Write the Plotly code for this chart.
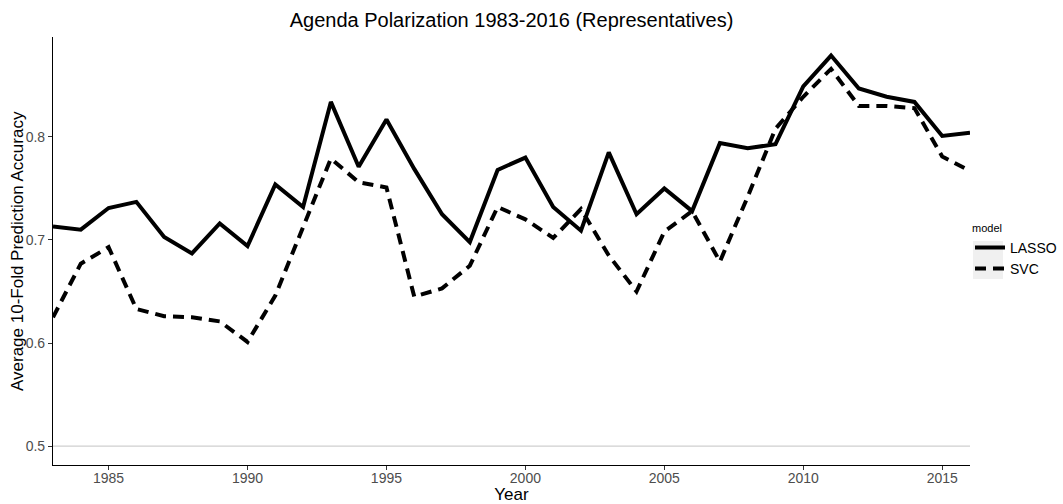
import plotly.graph_objects as go

years = list(range(1983, 2017))
lasso = [0.713, 0.710, 0.731, 0.737, 0.703, 0.687, 0.716, 0.694, 0.754, 0.732,
         0.834, 0.771, 0.817, 0.769, 0.725, 0.698, 0.768, 0.780, 0.732, 0.709,
         0.785, 0.725, 0.750, 0.728, 0.794, 0.789, 0.793, 0.849, 0.879, 0.847,
         0.839, 0.834, 0.801, 0.804]
svc = [0.625, 0.677, 0.693, 0.633, 0.626, 0.625, 0.621, 0.601, 0.646, 0.712,
       0.779, 0.756, 0.751, 0.645, 0.653, 0.675, 0.732, 0.720, 0.702, 0.730,
       0.685, 0.650, 0.708, 0.728, 0.679, 0.742, 0.808, 0.839, 0.866, 0.830,
       0.830, 0.828, 0.781, 0.767]
x_ticks = [1985, 1990, 1995, 2000, 2005, 2010, 2015]
y_ticks = [0.5, 0.6, 0.7, 0.8]
baseline = 0.5

FONT = "Liberation Sans, Arial, Helvetica, sans-serif"
L, R, T, B = 53, 93, 37, 39
W, H = 1063, 504
PW, PH = W - L - R, H - T - B

fig = go.Figure()
fig.add_trace(go.Scatter(x=years, y=lasso, mode="lines", name="LASSO",
                         line=dict(color="black", width=4)))
fig.add_trace(go.Scatter(x=years, y=svc, mode="lines", name="SVC",
                         line=dict(color="black", width=4, dash="11px,7px")))

fig.add_hline(y=baseline, line=dict(color="#cfcfcf", width=1.3), layer="below")

# light grey legend-key background (as in ggplot)
fig.add_shape(type="rect", xref="paper", yref="paper",
              x0=(973 - L) / PW, x1=(1003 - L) / PW,
              y0=(H - B - 279) / PH, y1=(H - B - 241) / PH,
              fillcolor="#f0f0f0", line=dict(width=0), layer="below")

# y-axis title placed as text annotation for exact positioning
fig.add_annotation(text="Average 10-Fold Prediction Accuracy", textangle=-90,
                   xref="paper", yref="paper", x=(17 - L) / PW, y=0.5,
                   xanchor="center", yanchor="middle", showarrow=False,
                   font=dict(size=17, color="black", family=FONT))

fig.update_layout(
    width=W, height=H,
    margin=dict(l=L, r=R, t=T, b=B, autoexpand=False),
    paper_bgcolor="white", plot_bgcolor="white",
    font=dict(family=FONT, color="black"),
    title=dict(text="Agenda Polarization 1983-2016 (Representatives)",
               x=(L + W - R) / 2 / W, xanchor="center", y=0.960, yanchor="middle",
               font=dict(size=20, color="black")),
    showlegend=True,
    legend=dict(title=dict(text="model", font=dict(size=11)),
                x=1.0, xanchor="left", y=0.5, yanchor="middle",
                font=dict(size=14), bgcolor="rgba(0,0,0,0)",
                tracegroupgap=0, itemwidth=30),
)
fig.update_xaxes(range=[1983, 2016], tickvals=x_ticks, showgrid=False,
                 zeroline=False, showline=True, linecolor="black", linewidth=1.2,
                 ticks="outside", ticklen=4, tickcolor="#333333", automargin=False,
                 ticklabelstandoff=-4,
                 tickfont=dict(size=14, color="#4d4d4d"),
                 title=dict(text="Year", font=dict(size=17, color="black"), standoff=5))
fig.update_yaxes(range=[0.4816, 0.897], tickvals=y_ticks, tickformat=".1f",
                 showgrid=False, zeroline=False, showline=True, linecolor="black",
                 linewidth=1.2, ticks="outside", ticklen=4, tickcolor="#333333",
                 automargin=False,
                 tickfont=dict(size=14, color="#4d4d4d"))

fig.write_html("out.html", config={"displayModeBar": False},
               post_script="document.body.style.margin='0';")
